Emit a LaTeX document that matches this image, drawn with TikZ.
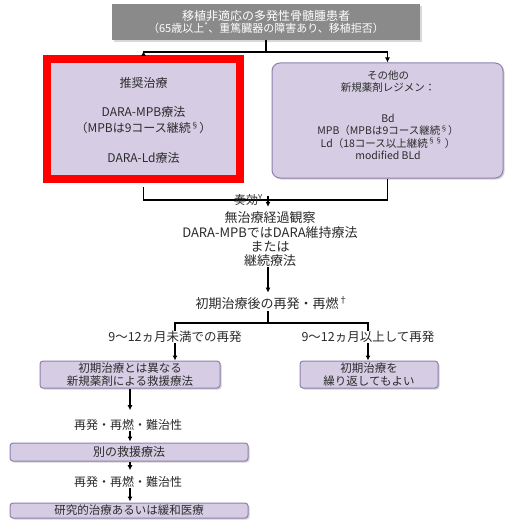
\documentclass[tikz,border=0pt]{standalone}
\usepackage{fontspec}
\setmainfont{Noto Sans CJK JP}
\usetikzlibrary{arrows.meta,shadows}
\definecolor{pfill}{HTML}{D6CDE4}
\definecolor{pborder}{HTML}{8E80AE}
\definecolor{gfill}{HTML}{8A8A8A}
\definecolor{tcol}{HTML}{2B2B2B}
\definecolor{redframe}{HTML}{FF0000}
\tikzset{
  txt/.style={text=tcol, align=center, inner sep=0pt},
  pbox/.style={draw=pborder, fill=pfill, line width=1pt, rounded corners=3pt, inner sep=0pt,
    drop shadow={shadow xshift=1.5pt, shadow yshift=-1.5pt, opacity=0.35}},
  topbox/.style={fill=gfill, text=white, align=center, inner sep=0pt,
    drop shadow={shadow xshift=2pt, shadow yshift=-2pt, opacity=0.3}},
  recbox/.style={draw=redframe, fill=pfill, line width=8pt, inner sep=0pt},
  ln/.style={line width=1.2pt, draw=black},
  arr/.style={ln, -{Latex[length=5pt,width=5pt]}}
}
\begin{document}
\begin{tikzpicture}[x=1pt,y=-1pt]
\fill[white] (0,0) rectangle (505,524);
\useasboundingbox (0,0) rectangle (505,524);

% top box
\node[topbox, minimum width=308pt, minimum height=36pt] (top) at (266,22)
 {\fontsize{12}{17}\selectfont 移植非適応の多発性骨髄腫患者\\
  \fontsize{11}{17}\selectfont （65歳以上\textsuperscript{*}、重篤臓器の障害あり、移植拒否）};

% recommended box (red frame)
\node[recbox, minimum width=193pt, minimum height=120pt] (rec) at (143.5,119) {};
\node[txt, font=\fontsize{12}{16}\selectfont] (rect) at (143.5,120.5)
 {推奨治療\\[13pt]DARA-MPB療法\\（MPBは9コース継続\textsuperscript{§}）\\[14pt]DARA-Ld療法};

% other regimens
\node[pbox, rounded corners=8pt, minimum width=231pt, minimum height=115pt] (oth) at (387.5,120.5) {};
\node[txt, font=\fontsize{10.5}{12.3}\selectfont] (otht) at (388,115)
 {その他の\\新規薬剤レジメン：\\[19pt]Bd\\MPB（MPBは9コース継続\textsuperscript{§}）\\Ld（18コース以上継続\textsuperscript{§§}\,）\\modified BLd};

% top connectors
\coordinate (j1) at (266,52);
\draw[ln] (top.south) -- (j1);
\draw[arr] (j1) -| ([yshift=4pt]rec.north);
\draw[arr] (j1) -| (oth.north);

% response
\coordinate (j2) at (268,196);
\draw[ln] ([yshift=-4pt]rec.south) -- ++(0,13) -| (oth.south);
\node[txt, font=\fontsize{12}{14}\selectfont, anchor=east] (resp) at (263,200) {奏効\textsuperscript{Y}};
\node[txt, font=\fontsize{13}{14.3}\selectfont] (obs) at (270,239.5)
 {無治療経過観察\\DARA-MPBではDARA維持療法\\または\\継続療法};
\draw[arr, shorten >=5pt] (j2) -- (j2 |- obs.north);

\node[txt, font=\fontsize{13}{15}\selectfont] (rel) at (272,303) {初期治療後の再発・再燃\textsuperscript{†}};
\draw[arr, shorten >=4pt] (j2 |- obs.south) -- (j2 |- rel.north);

% bracket
\coordinate (b0) at (268,323);
\node[txt, font=\fontsize{12.5}{14}\selectfont] (lt) at (175,337) {9〜12ヵ月未満での再発};
\node[txt, font=\fontsize{12.5}{14}\selectfont] (rt) at (368,337) {9〜12ヵ月以上して再発};
\draw[ln] (b0 |- rel.south) ++(0,2) -- (b0);
\draw[ln] (lt.north) |- (b0) -| (rt.north);

% second level boxes
\node[pbox, minimum width=180pt, minimum height=27pt, txt, font=\fontsize{11.5}{12.5}\selectfont] (lb) at (130,374.5)
 {初期治療とは異なる\\新規薬剤による救援療法};
\node[pbox, minimum width=138pt, minimum height=27pt, txt, font=\fontsize{11.5}{12.5}\selectfont] (rb) at (369,374.5)
 {初期治療を\\繰り返してもよい};
\draw[arr] (lt.south) -- (lt.south |- lb.north);
\draw[arr] (rt.south) -- (rt.south |- rb.north);

% lower chain
\node[txt, font=\fontsize{12}{14}\selectfont] (r1) at (128,425) {再発・再燃・難治性};
\node[pbox, minimum width=238pt, minimum height=18pt, txt, font=\fontsize{12}{14}\selectfont] (bx1) at (129,452) {別の救援療法};
\node[txt, font=\fontsize{12}{14}\selectfont] (r2) at (128,482) {再発・再燃・難治性};
\node[pbox, minimum width=238pt, minimum height=15pt, txt, font=\fontsize{11.5}{13}\selectfont] (bx2) at (129,510.5) {研究的治療あるいは緩和医療};

\draw[arr, shorten >=9pt] (lb.south) -- (lb.south |- r1.north);
\draw[arr, shorten >=1pt] (lb.south |- r1.south) -- (lb.south |- bx1.north);
\draw[arr, shorten >=6pt] (lb.south |- bx1.south) -- (lb.south |- r2.north);
\draw[arr, shorten >=1pt] (lb.south |- r2.south) -- (lb.south |- bx2.north);
\end{tikzpicture}
\end{document}
